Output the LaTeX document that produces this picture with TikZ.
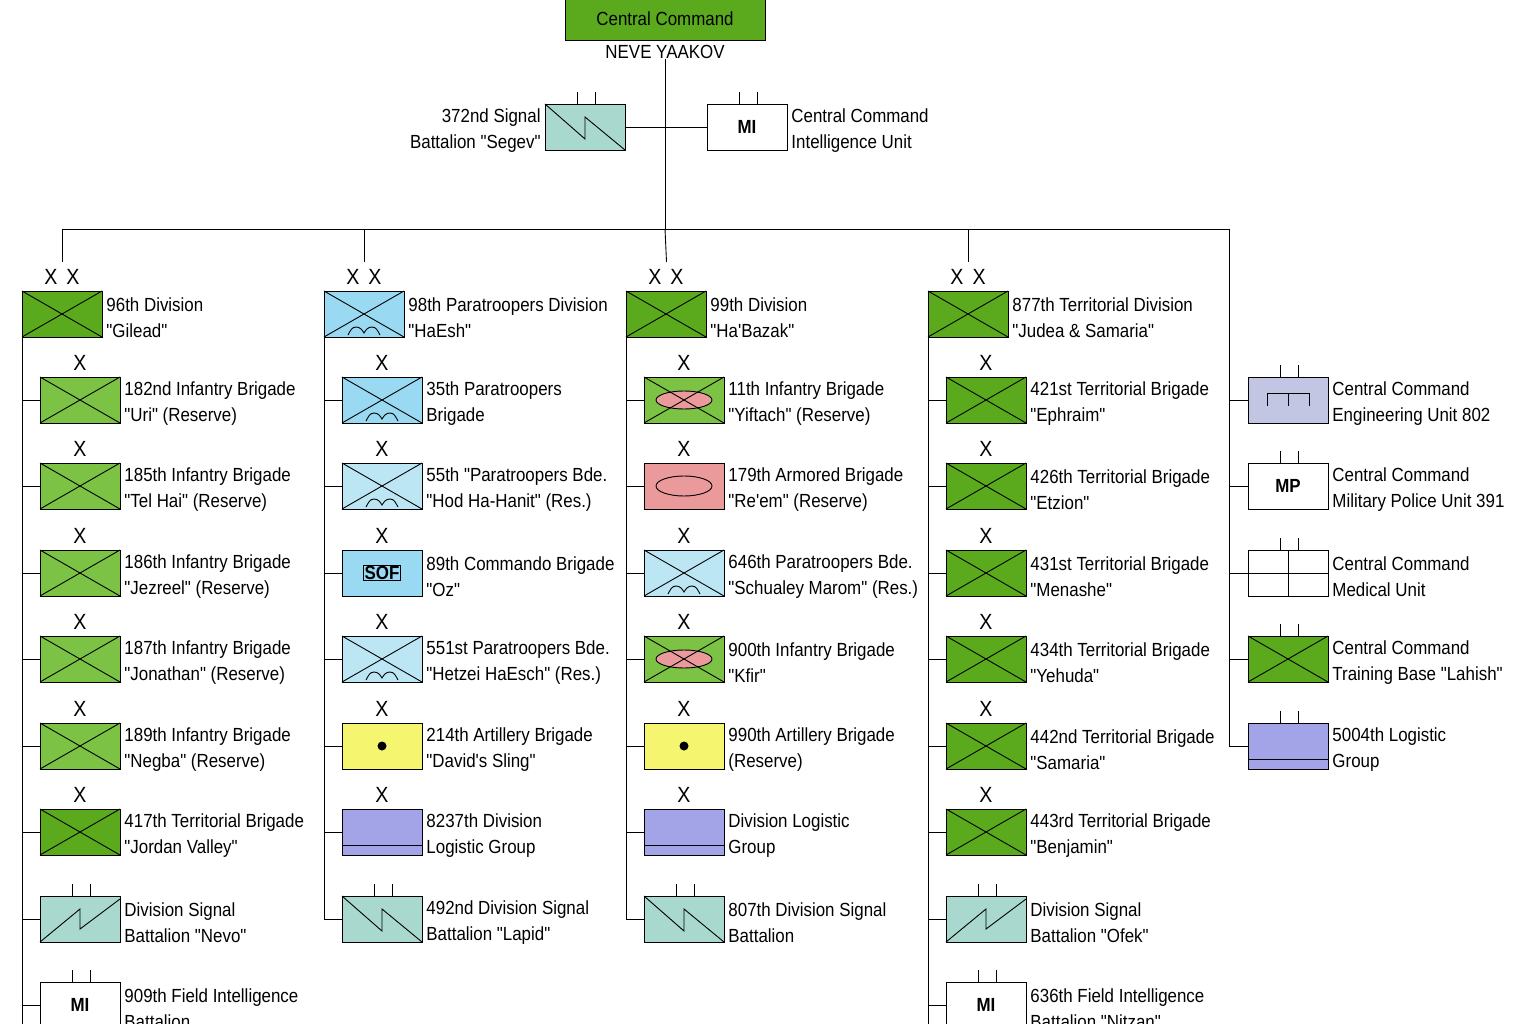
\documentclass[tikz,border=0pt]{standalone}
\usepackage{fontspec}
\setmainfont{Liberation Sans}[FakeStretch=0.89,Ligatures=TeXOff]
\begin{document}
\definecolor{dg}{HTML}{5BAA1E}
\definecolor{lg}{HTML}{7CC244}
\definecolor{pb}{HTML}{99D9F2}
\definecolor{lb}{HTML}{BDE6F5}
\definecolor{pk}{HTML}{EA9A9A}
\definecolor{yl}{HTML}{F5F570}
\definecolor{lo}{HTML}{A3A3E8}
\definecolor{sg}{HTML}{A9D9CE}
\definecolor{en}{HTML}{C2C6E2}
\begin{tikzpicture}[x=1pt,y=-1pt,line width=0.9pt,
  box/.style={draw,minimum width=80pt,minimum height=46pt,inner sep=0pt,line width=1pt},
  lbl/.style={align=left,inner sep=0pt,font=\fontsize{19}{26}\selectfont},
  ech/.style={font=\fontsize{22}{22}\selectfont,inner sep=0pt},
  sym/.style={font=\fontsize{19}{19}\selectfont\bfseries}]
\useasboundingbox (0,0) rectangle (1536,1024);
\def\sX{\draw (0,0)--(80,46) (0,46)--(80,0);}
\def\sPara{\sX\draw (24,44) to[out=60,in=180] (32,36) to[out=0,in=120] (40,42) to[out=60,in=180] (48,36) to[out=0,in=120] (56,44);}
\def\sMech{\draw[fill=pk] (40,23) ellipse (28 and 9);\sX}
\def\sArm{\draw (40,23) ellipse (28 and 10);}
\def\sSOF{\node[draw,sym,inner sep=1pt,line width=1.2pt] at (40,23) {SOF};}
\def\sArt{\fill (40,23) circle (4.5);}
\def\sLog{\draw (0,36)--(80,36);}
\def\sSigA{\draw (0,46)--(40,13)--(40,33)--(80,3);}
\def\sSigB{\draw (0,0)--(40,35)--(40,13)--(80,46);}
\def\sMI{\node[sym] at (40,23) {MI};}
\def\sMP{\node[sym] at (40,23) {MP};}
\def\sEng{\draw (19,29)--(19,16)--(61,16)--(61,29) (40,16)--(40,29);}
\def\sMed{\draw (40,0)--(40,46) (0,23)--(80,23);}
\def\eX{\node[ech] at (40,-14) {X};}
\def\eXX{\node[ech] at (40,-14) {X\hspace{9pt}X};}
\def\eii{\draw (32,0)--(32,-12) (50,0)--(50,-12);}
% #1 name #2 x #3 y #4 fill #5 echelon #6 symbol #7 label
\newcommand\U[7]{%
 \node[box,fill=#4,anchor=north west] (#1) at (#2,#3) {};
 \begin{scope}[shift={(#1.north west)}]#5#6\end{scope}
 \node[lbl,anchor=west] (#1-t) at ([xshift=3pt,yshift=-3pt]#1.east) {#7};}
% top
\node[draw,fill=dg,minimum width=200pt,minimum height=42pt,inner sep=0pt,font=\fontsize{19}{19}\selectfont] (cc) at (665,19) {Central Command};
\node[lbl,anchor=north] (ny) at (665,45) {NEVE YAAKOV};
\U{sig}{545}{104}{sg}{\eii}{\sSigB}{}
\node[lbl,align=right,anchor=east] (sig-l) at ([xshift=-4pt,yshift=-3pt]sig.west) {372nd Signal\\Battalion "Segev"};
\U{mi}{707}{104}{white}{\eii}{\sMI}{Central Command\\Intelligence Unit}
\coordinate (hub) at (665,229);
\coordinate (hubL) at (62,229);
\coordinate (hubR) at (1229,229);
\draw (ny.south) -- (hub);
\draw (sig.east) -- (mi.west);
\draw (hubL) -- (hubR);
% divisions
\U{d1}{22}{291}{dg}{\eXX}{\sX}{96th Division\\"Gilead"}
\U{d2}{324}{291}{pb}{\eXX}{\sPara}{98th Paratroopers Division\\"HaEsh"}
\U{d3}{626}{291}{dg}{\eXX}{\sX}{99th Division\\"Ha'Bazak"}
\U{d4}{928}{291}{dg}{\eXX}{\sX}{877th Territorial Division\\"Judea \& Samaria"}
\foreach \d in {d1,d2,d4}{\draw (hub -| \d.north) -- ([yshift=29pt]\d.north);}
\draw (hub) -- ([yshift=29pt]d3.north);
% column 1
\U{a1}{40}{377}{lg}{\eX}{\sX}{182nd Infantry Brigade\\"Uri" (Reserve)}
\U{a2}{40}{463}{lg}{\eX}{\sX}{185th Infantry Brigade\\"Tel Hai" (Reserve)}
\U{a3}{40}{550}{lg}{\eX}{\sX}{186th Infantry Brigade\\"Jezreel" (Reserve)}
\U{a4}{40}{636}{lg}{\eX}{\sX}{187th Infantry Brigade\\"Jonathan" (Reserve)}
\U{a5}{40}{723}{lg}{\eX}{\sX}{189th Infantry Brigade\\"Negba" (Reserve)}
\U{a6}{40}{809}{dg}{\eX}{\sX}{417th Territorial Brigade\\"Jordan Valley"}
\U{a7}{40}{896}{sg}{\eii}{\sSigA}{Division Signal\\Battalion "Nevo"}
\U{a8}{40}{982}{white}{\eii}{\sMI}{909th Field Intelligence\\Battalion}
% column 2
\U{b1}{342}{377}{pb}{\eX}{\sPara}{35th Paratroopers\\Brigade}
\U{b2}{342}{463}{lb}{\eX}{\sPara}{55th "Paratroopers Bde.\\"Hod Ha-Hanit" (Res.)}
\U{b3}{342}{550}{pb}{\eX}{\sSOF}{89th Commando Brigade\\"Oz"}
\U{b4}{342}{636}{lb}{\eX}{\sPara}{551st Paratroopers Bde.\\"Hetzei HaEsch" (Res.)}
\U{b5}{342}{723}{yl}{\eX}{\sArt}{214th Artillery Brigade\\"David's Sling"}
\U{b6}{342}{809}{lo}{\eX}{\sLog}{8237th Division\\Logistic Group}
\U{b7}{342}{896}{sg}{\eii}{\sSigB}{492nd Division Signal\\Battalion "Lapid"}
% column 3
\U{c1}{644}{377}{lg}{\eX}{\sMech}{11th Infantry Brigade\\"Yiftach" (Reserve)}
\U{c2}{644}{463}{pk}{\eX}{\sArm}{179th Armored Brigade\\"Re'em" (Reserve)}
\U{c3}{644}{550}{lb}{\eX}{\sPara}{646th Paratroopers Bde.\\"Schualey Marom" (Res.)}
\U{c4}{644}{636}{lg}{\eX}{\sMech}{900th Infantry Brigade\\"Kfir"}
\U{c5}{644}{723}{yl}{\eX}{\sArt}{990th Artillery Brigade\\(Reserve)}
\U{c6}{644}{809}{lo}{\eX}{\sLog}{Division Logistic\\Group}
\U{c7}{644}{896}{sg}{\eii}{\sSigB}{807th Division Signal\\Battalion}
% column 4
\U{e1}{946}{377}{dg}{\eX}{\sX}{421st Territorial Brigade\\"Ephraim"}
\U{e2}{946}{463}{dg}{\eX}{\sX}{426th Territorial Brigade\\"Etzion"}
\U{e3}{946}{550}{dg}{\eX}{\sX}{431st Territorial Brigade\\"Menashe"}
\U{e4}{946}{636}{dg}{\eX}{\sX}{434th Territorial Brigade\\"Yehuda"}
\U{e5}{946}{723}{dg}{\eX}{\sX}{442nd Territorial Brigade\\"Samaria"}
\U{e6}{946}{809}{dg}{\eX}{\sX}{443rd Territorial Brigade\\"Benjamin"}
\U{e7}{946}{896}{sg}{\eii}{\sSigA}{Division Signal\\Battalion "Ofek"}
\U{e8}{946}{982}{white}{\eii}{\sMI}{636th Field Intelligence\\Battalion "Nitzan"}
% right column
\U{r1}{1248}{377}{en}{\eii}{\sEng}{Central Command\\Engineering Unit 802}
\U{r2}{1248}{463}{white}{\eii}{\sMP}{Central Command\\Military Police Unit 391}
\U{r3}{1248}{550}{white}{\eii}{\sMed}{Central Command\\Medical Unit}
\U{r4}{1248}{636}{dg}{\eii}{\sX}{Central Command\\Training Base "Lahish"}
\U{r5}{1248}{723}{lo}{\eii}{\sLog}{5004th Logistic\\Group}
% trunks
\coordinate (end1) at (22,1030);
\coordinate (end4) at (928,1030);
\draw (d1.south west) -- (end1);
\draw (d2.south west) -- (b7.west -| d2.south west);
\draw (d3.south west) -- (c7.west -| d3.south west);
\draw (d4.south west) -- (end4);
\draw (hubR) -- (r5.west -| hubR);
\foreach \n in {a1,a2,a3,a4,a5,a6,a7,a8}{\draw (\n.west) -- (\n.west -| d1.south west);}
\foreach \n in {b1,b2,b3,b4,b5,b6,b7}{\draw (\n.west) -- (\n.west -| d2.south west);}
\foreach \n in {c1,c2,c3,c4,c5,c6,c7}{\draw (\n.west) -- (\n.west -| d3.south west);}
\foreach \n in {e1,e2,e3,e4,e5,e6,e7,e8}{\draw (\n.west) -- (\n.west -| d4.south west);}
\foreach \n in {r1,r2,r3,r4,r5}{\draw (\n.west) -- (\n.west -| hubR);}
\end{tikzpicture}
\end{document}
